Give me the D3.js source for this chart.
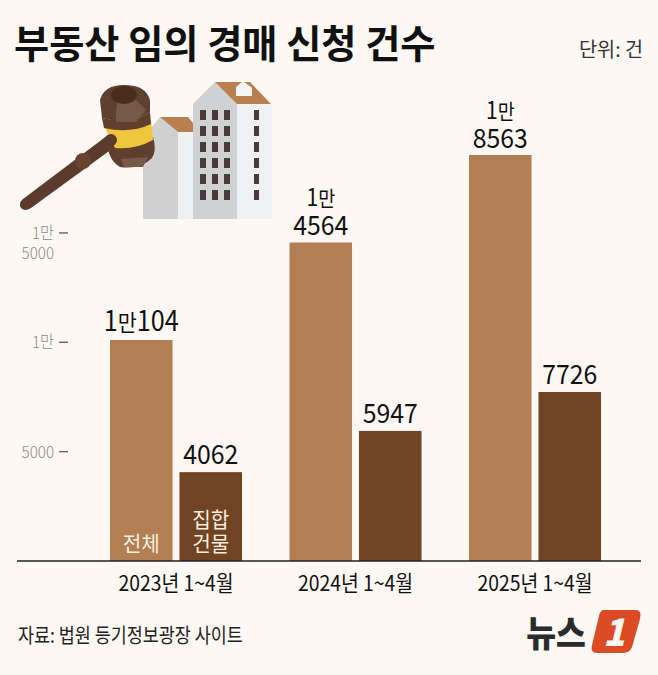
<!DOCTYPE html>
<html><head><meta charset="utf-8">
<script src="https://cdn.jsdelivr.net/npm/d3@7"></script>
<style>html,body{margin:0;padding:0;background:#fdf8f3}svg{display:block}
text{font-family:"Noto Sans CJK KR","Noto Sans",sans-serif}</style></head><body>
<svg id="c" width="658" height="675"></svg>
<script>
const periods=["2023년 1~4월","2024년 1~4월","2025년 1~4월"];
const totalValues=[10104,14564,18563];
const collectiveValues=[4062,5947,7726];
const totalLabels=[["1만","104"],["1만","4564"],["1만","8563"]];
const collectiveLabels=["4062","5947","7726"];
const tickValues=[5000,10000,15000];
const tickLabels=[["5000"],["1만"],["1만","5000"]];
const seriesNames=["전체",["집합","건물"]];
const colors=["#b27e54","#6f4323"];
const title="부동산 임의 경매 신청 건수";
const unit="단위: 건";
const source="자료: 법원 등기정보광장 사이트";

const svg=d3.select("#c");
svg.append("rect").attr("width",658).attr("height",675).attr("fill","#fdf8f3");
const y=d3.scaleLinear().domain([0,18563]).range([561,155]);
const x0=d3.scaleBand().domain(periods).range([110,601]).paddingInner(0.2646);
const x1=d3.scaleBand().domain([0,1]).range([0,x0.bandwidth()]).paddingInner(0.1);

function label(g,x,yy,s,size,fill,sx,weight,anchor){
  const t=g.append("text").attr("transform",`translate(${x},${yy}) scale(${sx},1)`)
    .attr("text-anchor",anchor||"middle").attr("font-size",size).attr("fill",fill).text(s);
  if(weight)t.attr("font-weight",weight);
  return t;
}
label(svg,14,58,title,39,"#111",0.98,700,"start");
label(svg,643,57,unit,20,"#333",0.98,400,"end");

// buildings illustration
const il=svg.append("g");
il.append("path").attr("d","M143 219V138L160 117L178 132V219Z").attr("fill","#d0d0d0");
il.append("rect").attr("x",178).attr("y",132).attr("width",15).attr("height",87).attr("fill","#eff0f1");
il.append("path").attr("d","M160 117H188L193 123V132H178Z").attr("fill","#b87f4f");
il.append("path").attr("d","M193 219V104L215 82L237 104V219Z").attr("fill","#d0d1d2");
il.append("rect").attr("x",237).attr("y",104).attr("width",35).attr("height",115).attr("fill","#f0f1f3");
il.append("path").attr("d","M215 82H250L271 104H237Z").attr("fill","#b87f4f");
il.append("path").attr("d","M236 87L243 81L252 88V96H236Z").attr("fill","#f7f5f2");
[110,126,142,158,174,190].forEach(v=>[[200,6],[212,6],[224,6],[254,5]].forEach(w=>
  il.append("rect").attr("x",w[0]).attr("y",v).attr("width",w[1]).attr("height",10).attr("fill","#4a3a3a")));
// gavel
il.append("path").attr("d","M23 199L108 135L116 146L31 208Q25 212 21 208Q18 203 23 199Z").attr("fill","#5b3b2c");
il.append("circle").attr("cx",83).attr("cy",161).attr("r",8).attr("fill","#6a4432");
il.append("path").attr("d","M107 142Q130 150 153 137Q157 150 152 158Q140 170 120 167Q108 160 107 142Z").attr("fill","#5f3f2e");
il.append("path").attr("d","M121 159L148 157L143 167H124Z").attr("fill","#77594a");
il.append("path").attr("d","M105 128L151 121L153 140Q135 150 115 148Z").attr("fill","#eec53c");
il.append("path").attr("d","M102 118Q130 125 150 112L151 124Q130 134 104 128Z").attr("fill","#5f3f2e");
il.append("path").attr("d","M100 100Q104 85 124 85Q146 85 150 100V112Q130 126 102 118Z").attr("fill","#5f3f2e");
il.append("path").attr("d","M116 112L118 98H134L146 110L136 122L116 122Z").attr("fill","#77594a");
il.append("ellipse").attr("cx",124).attr("cy",95).attr("rx",13).attr("ry",9).attr("fill","#4a2d1f");
il.append("circle").attr("cx",111).attr("cy",140).attr("r",6).attr("fill","#5b3b2c");

// y ticks
const yt=svg.append("g");
tickValues.forEach((v,i)=>{
  yt.append("line").attr("x1",59).attr("x2",68).attr("y1",y(v)).attr("y2",y(v)).attr("stroke","#666").attr("stroke-width",1.4);
  const l=tickLabels[i];
  label(yt,54,y(v)+6,l[0],16.5,"#8a8a8a",0.92,300,"end");
  if(l[1])label(yt,54,y(v)+26,l[1],16.5,"#8a8a8a",0.92,300,"end");
});

// bars
[totalValues,collectiveValues].forEach((vals,s)=>{
  svg.append("g").selectAll("rect").data(vals).join("rect")
    .attr("x",(d,i)=>x0(periods[i])+x1(s)).attr("width",x1.bandwidth())
    .attr("y",d=>y(d)).attr("height",d=>y(0)-y(d)).attr("fill",colors[s]);
});
// value labels
const vl=svg.append("g");
totalValues.forEach((v,i)=>{
  const cx=x0(periods[i])+x1(0)+x1.bandwidth()/2;
  const l=totalLabels[i];
  if(i==0){
    const t=label(vl,cx,y(v)-9,"",28,"#111",0.9,400);
    t.append("tspan").text("1");
    t.append("tspan").attr("font-size",23).text("만");
    t.append("tspan").text(l[1]);
  } else {
    label(vl,cx,y(v)-7,l[1],27,"#111",0.92,400);
    const t=label(vl,cx,y(v)-36,"",24,"#111",0.88,400);
    t.append("tspan").text("1");
    t.append("tspan").attr("font-size",21).text("만");
  }
});
collectiveValues.forEach((v,i)=>label(vl,x0(periods[i])+x1(1)+x1.bandwidth()/2,y(v)-8,collectiveLabels[i],27,"#111",0.92,400));
// series names in first group
const c0=x0(periods[0])+x1(0)+x1.bandwidth()/2,c1=x0(periods[0])+x1(1)+x1.bandwidth()/2;
label(svg,c0,551,seriesNames[0],21,"#fdeedd",0.96,400);
label(svg,c1,527,seriesNames[1][0],21,"#fdeedd",0.96,400);
label(svg,c1,551,seriesNames[1][1],21,"#fdeedd",0.96,400);
// baseline
svg.append("line").attr("x1",17).attr("x2",641).attr("y1",y(0)).attr("y2",y(0)).attr("stroke","#222").attr("stroke-width",1.5);
// x labels
periods.forEach(p=>label(svg,x0(p)+x0.bandwidth()/2,591,p,21.5,"#111",0.9,400));
label(svg,18,643,source,20.5,"#222",0.85,400,"start");

// logo
const lg=svg.append("g");
label(lg,556,647,"뉴스",36,"#2b2b2b",0.9,900);
lg.append("path").attr("d","M603 610H636Q642 610 640 619L632 647Q630 653 622 653H597Q590 653 592 645L599 616Q600 611 603 610Z").attr("fill","#dc4a26");
label(lg,614,646,"1",38,"#fdf8f3",0.95,900).attr("font-style","italic");
</script></body></html>
